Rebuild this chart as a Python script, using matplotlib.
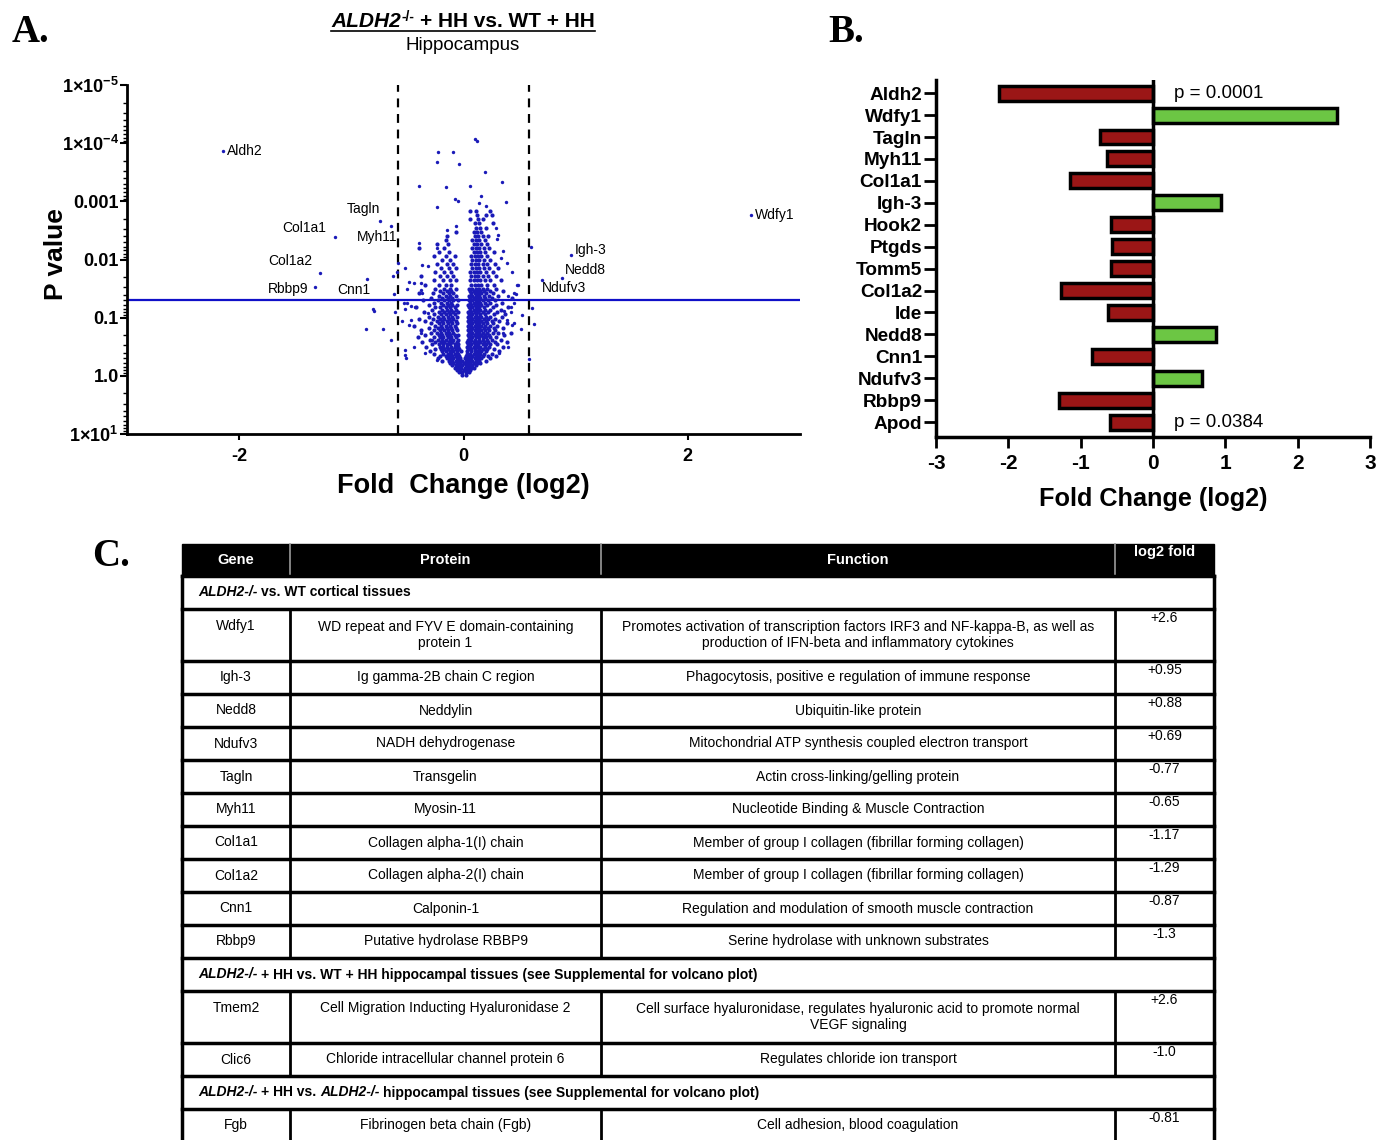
import numpy as np
import matplotlib.pyplot as plt
from matplotlib import font_manager
from matplotlib.lines import Line2D
from matplotlib.patches import Rectangle

avail = {f.name for f in font_manager.fontManager.ttflist}
narrow = next((n for n in ['Liberation Sans Narrow', 'Arial Narrow'] if n in avail), None)
table_font = narrow if narrow else 'Liberation Sans'
table_size = 11.5 if narrow else 10.0

plt.rcParams['font.family'] = ['Liberation Sans', 'DejaVu Sans']
plt.rcParams['mathtext.fontset'] = 'custom'
plt.rcParams['mathtext.rm'] = 'Liberation Sans:bold'
plt.rcParams['mathtext.it'] = 'Liberation Sans:italic:bold'
plt.rcParams['mathtext.bf'] = 'Liberation Sans:bold'

# ---- panel A: labelled genes (log2 fold change, -log10 p) ----
label_genes = ['Aldh2', 'Wdfy1', 'Tagln', 'Myh11', 'Col1a1', 'Col1a2', 'Rbbp9', 'Cnn1', 'Igh-3', 'Nedd8', 'Ndufv3']
label_fc = [-2.14, 2.56, -0.74, -0.65, -1.15, -1.28, -1.32, -0.86, 0.96, 0.88, 0.70]
label_nlogp = [3.86, 2.76, 2.67, 2.57, 2.38, 1.77, 1.52, 1.67, 2.08, 1.68, 1.65]

# rest of the volcano cloud, read row by row (-log10 p level, fold changes at that level)
cloud_levels = [0.02, 0.06, 0.10, 0.14, 0.18, 0.22, 0.26, 0.30, 0.34, 0.38, 0.42, 0.46, 0.50, 0.54,
                0.58, 0.62, 0.66, 0.70, 0.74, 0.78, 0.82, 0.86, 0.90, 0.94, 0.98, 1.02, 1.06, 1.10,
                1.14, 1.18, 1.22, 1.26, 1.30, 1.34, 1.38, 1.42, 1.46, 1.50, 1.57, 1.64, 1.71, 1.78,
                1.85, 1.92, 1.99, 2.06, 2.13, 2.20, 2.27, 2.34, 2.41, 2.48, 2.55, 2.62, 2.69, 2.76, 2.84]
cloud_fc_by_level = [
    [-0.01, 0.02],
    [-0.04, -0.01, 0.02, 0.05],
    [-0.06, -0.03, 0.00, 0.03, 0.06],
    [-0.08, -0.05, -0.02, 0.01, 0.04, 0.07, 0.09],
    [-0.10, -0.07, -0.04, -0.01, 0.02, 0.05, 0.08, 0.11],
    [-0.12, -0.09, -0.06, -0.03, 0.00, 0.03, 0.06, 0.09, 0.12, 0.15],
    [-0.13, -0.10, -0.07, -0.04, -0.01, 0.02, 0.05, 0.08, 0.11, 0.14, -0.19, 0.20],
    [-0.15, -0.12, -0.09, -0.06, -0.03, 0.01, 0.04, 0.07, 0.10, 0.13, 0.16, -0.23, 0.24],
    [-0.16, -0.13, -0.10, -0.07, -0.04, 0.02, 0.05, 0.08, 0.11, 0.14, 0.17, -0.21, 0.22, 0.29],
    [-0.18, -0.14, -0.11, -0.08, -0.05, 0.03, 0.06, 0.09, 0.12, 0.15, 0.18, -0.26, 0.25],
    [-0.19, -0.16, -0.12, -0.09, -0.06, -0.02, 0.03, 0.07, 0.10, 0.13, 0.16, 0.20, -0.30, 0.32],
    [-0.20, -0.17, -0.14, -0.10, -0.07, -0.04, 0.04, 0.07, 0.10, 0.14, 0.17, 0.21, 0.27, -0.25],
    [-0.21, -0.18, -0.15, -0.11, -0.08, -0.05, 0.03, 0.06, 0.09, 0.12, 0.15, 0.19, 0.23, -0.33, 0.35],
    [-0.22, -0.18, -0.15, -0.12, -0.08, -0.05, 0.04, 0.07, 0.10, 0.13, 0.17, 0.20, 0.24, -0.28, 0.30],
    [-0.20, -0.17, -0.13, -0.10, -0.06, 0.03, 0.06, 0.09, 0.12, 0.15, 0.18, 0.22, -0.25, -0.37, 0.28, 0.39],
    [-0.23, -0.19, -0.16, -0.12, -0.09, -0.05, 0.04, 0.07, 0.10, 0.14, 0.17, 0.21, 0.25, -0.30, 0.33],
    [-0.21, -0.18, -0.14, -0.11, -0.07, 0.05, 0.08, 0.11, 0.14, 0.17, 0.20, 0.24, -0.26, 0.29, -0.41],
    [-0.22, -0.19, -0.15, -0.12, -0.08, -0.05, 0.04, 0.07, 0.10, 0.13, 0.16, 0.19, 0.23, -0.34, 0.36],
    [-0.24, -0.20, -0.16, -0.13, -0.09, 0.05, 0.08, 0.11, 0.14, 0.17, 0.21, 0.26, -0.29, 0.31, 0.42],
    [-0.21, -0.17, -0.14, -0.10, -0.06, 0.04, 0.07, 0.10, 0.13, 0.16, 0.19, 0.23, -0.26, -0.38, 0.28],
    [-0.23, -0.19, -0.15, -0.11, -0.07, 0.05, 0.08, 0.11, 0.14, 0.18, 0.22, -0.31, 0.27, 0.35],
    [-0.20, -0.16, -0.12, -0.08, 0.04, 0.07, 0.10, 0.13, 0.16, 0.19, 0.24, -0.25, 0.30, -0.44],
    [-0.22, -0.18, -0.14, -0.10, -0.06, 0.05, 0.08, 0.11, 0.14, 0.17, 0.21, -0.29, 0.26, 0.39],
    [-0.24, -0.19, -0.15, -0.11, -0.07, 0.04, 0.07, 0.10, 0.13, 0.16, 0.20, 0.25, -0.34, 0.32],
    [-0.21, -0.17, -0.13, -0.09, 0.05, 0.08, 0.11, 0.14, 0.18, 0.22, -0.27, 0.28, -0.40],
    [-0.23, -0.18, -0.14, -0.10, -0.06, 0.04, 0.07, 0.10, 0.13, 0.16, 0.20, 0.24, -0.31, 0.34],
    [-0.20, -0.16, -0.12, -0.08, 0.05, 0.08, 0.11, 0.15, 0.19, -0.26, 0.27, 0.37],
    [-0.22, -0.17, -0.13, -0.09, -0.05, 0.04, 0.07, 0.10, 0.13, 0.17, 0.22, -0.35, 0.30],
    [-0.19, -0.15, -0.11, -0.07, 0.06, 0.09, 0.12, 0.15, 0.19, 0.24, -0.28, 0.33],
    [-0.21, -0.16, -0.12, -0.08, 0.05, 0.08, 0.11, 0.14, 0.18, -0.25, 0.26, 0.40, -0.42],
    [-0.18, -0.14, -0.10, -0.06, 0.04, 0.07, 0.10, 0.13, 0.16, 0.21, -0.31, 0.29],
    [-0.20, -0.15, -0.11, 0.06, 0.09, 0.12, 0.15, 0.19, 0.24, -0.26, 0.34],
    [-0.17, -0.13, -0.09, -0.05, 0.05, 0.08, 0.11, 0.14, 0.17, 0.22, -0.23, -0.36, 0.28],
    [-0.19, -0.14, -0.10, 0.06, 0.09, 0.12, 0.15, 0.19, -0.29, 0.25, 0.43],
    [-0.16, -0.12, -0.07, 0.05, 0.08, 0.11, 0.14, 0.18, 0.23, -0.22, 0.31],
    [-0.18, -0.13, -0.09, 0.07, 0.10, 0.13, 0.16, 0.20, -0.27, 0.26, -0.40],
    [-0.15, -0.11, 0.06, 0.09, 0.12, 0.15, 0.18, 0.24, -0.21, 0.35],
    [-0.17, -0.12, -0.07, 0.05, 0.08, 0.11, 0.14, 0.17, 0.21, -0.25, 0.29],
    [-0.16, -0.11, 0.07, 0.10, 0.13, 0.16, 0.21, -0.22, 0.27, -0.34],
    [-0.18, -0.12, -0.07, 0.06, 0.09, 0.12, 0.15, 0.19, 0.24, -0.26, 0.33],
    [-0.15, -0.09, 0.07, 0.10, 0.13, 0.17, 0.22, -0.21, 0.29, -0.38],
    [-0.17, -0.11, 0.06, 0.09, 0.12, 0.15, 0.20, -0.25, 0.26],
    [-0.13, -0.07, 0.08, 0.11, 0.14, 0.18, 0.23, -0.20, 0.31],
    [-0.15, -0.09, 0.07, 0.10, 0.13, 0.17, -0.24, 0.21, 0.28],
    [-0.12, 0.08, 0.11, 0.14, 0.18, -0.19, 0.24],
    [-0.16, -0.08, 0.07, 0.10, 0.13, 0.16, 0.21, -0.26],
    [-0.13, 0.09, 0.12, 0.15, 0.19, -0.22, 0.27],
    [-0.17, 0.08, 0.11, 0.14, 0.18, 0.23, -0.40],
    [-0.14, 0.09, 0.12, 0.16, 0.21, -0.24],
    [0.08, 0.11, 0.14, 0.19, -0.16],
    [0.10, 0.13, 0.17, -0.15, 0.22],
    [0.09, 0.12, 0.16, -0.07],
    [0.11, 0.15, 0.20],
    [0.10, 0.14, 0.26],
    [0.13, 0.17, 0.06],
    [0.12, 0.20, 0.25],
    [0.06, 0.11, 0.24],
]
outlier_fc = [0.14, 0.20, -0.24, 0.38, -0.08, -0.05, 0.16, -0.40, -0.16, 0.06, 0.34, 0.19, -0.24, -0.04,
              -0.23, -0.09, 0.10, 0.12, -0.15, -0.07, -0.40, 0.29, 0.31,
              -0.81, -0.80, -0.87, -0.72, -0.65, -0.61, -0.51, -0.52, -0.62, -0.63, -0.59, -0.58,
              0.60, 0.61, 0.63, 0.58, 0.51, 0.49, 0.45, 0.43, 0.42, -0.50, -0.47, -0.55, 0.47, 0.52, -0.52, -0.49,
              # halo between the lobes and the fold-change cut-offs
              -0.52, -0.44, -0.38, -0.38, -0.37, -0.32, -0.37, -0.24, -0.53, -0.50, -0.43, -0.32, -0.47,
              -0.49, -0.38, -0.44, -0.52, -0.34, -0.28, -0.24,
              0.45, 0.40, 0.48, 0.43, 0.39, 0.35, 0.42, 0.39, 0.45, 0.35, 0.40, 0.32, 0.36, 0.30, 0.33]
outlier_nlogp = [2.97, 2.92, 2.90, 2.99, 3.04, 3.01, 3.10, 3.26, 3.25, 3.27, 3.33, 3.50, 3.67, 3.64,
                 3.85, 3.84, 4.08, 4.04, 2.51, 2.58, 2.29, 2.55, 2.42,
                 1.15, 1.11, 0.80, 0.80, 0.62, 1.09, 0.30, 0.45, 1.41, 1.72, 1.78, 1.94,
                 2.22, 1.16, 0.89, 0.29, 0.80, 1.56, 1.25, 0.88, 1.09, 1.50, 1.20, 0.95, 1.40, 1.05, 1.15, 1.62,
                 1.85, 1.59, 1.59, 1.48, 1.43, 1.88, 1.90, 2.19, 1.25, 1.26, 1.19, 1.08, 0.96,
                 0.88, 0.73, 0.50, 0.36, 0.39, 0.62, 0.27,
                 1.42, 1.38, 1.56, 1.79, 1.94, 2.14, 1.19, 0.96, 0.90, 0.73, 0.50, 0.39, 1.11, 2.35, 2.02]

p_cut = 0.05
fc_cut = 0.585

# ---- panel B ----
bar_genes = ['Aldh2', 'Wdfy1', 'Tagln', 'Myh11', 'Col1a1', 'Igh-3', 'Hook2', 'Ptgds',
             'Tomm5', 'Col1a2', 'Ide', 'Nedd8', 'Cnn1', 'Ndufv3', 'Rbbp9', 'Apod']
bar_fc = [-2.13, 2.55, -0.73, -0.63, -1.15, 0.94, -0.58, -0.56,
          -0.58, -1.27, -0.62, 0.87, -0.85, 0.68, -1.30, -0.59]

# ---- panel C table ----
table_genes = ['Wdfy1', 'Igh-3', 'Nedd8', 'Ndufv3', 'Tagln', 'Myh11', 'Col1a1', 'Col1a2', 'Cnn1', 'Rbbp9',
               'Tmem2', 'Clic6', 'Fgb']
table_proteins = ['WD repeat and FYV E domain-containing\nprotein 1', 'Ig gamma-2B chain C region', 'Neddylin',
                  'NADH dehydrogenase', 'Transgelin', 'Myosin-11', 'Collagen alpha-1(I) chain',
                  'Collagen alpha-2(I) chain', 'Calponin-1', 'Putative hydrolase RBBP9',
                  'Cell Migration Inducting Hyaluronidase 2', 'Chloride intracellular channel protein 6',
                  'Fibrinogen beta chain (Fgb)']
table_functions = ['Promotes activation of transcription factors IRF3 and NF-kappa-B, as well as\nproduction of IFN-beta and inflammatory cytokines',
                   'Phagocytosis, positive e regulation of immune response', 'Ubiquitin-like protein',
                   'Mitochondrial ATP synthesis coupled electron transport', 'Actin cross-linking/gelling protein',
                   'Nucleotide Binding & Muscle Contraction', 'Member of group I collagen (fibrillar forming collagen)',
                   'Member of group I collagen (fibrillar forming collagen)',
                   'Regulation and modulation of smooth muscle contraction', 'Serine hydrolase with unknown substrates',
                   'Cell surface hyaluronidase, regulates hyaluronic acid to promote normal\nVEGF signaling',
                   'Regulates chloride ion transport', 'Cell adhesion, blood coagulation']
table_folds = ['+2.6', '+0.95', '+0.88', '+0.69', '-0.77', '-0.65', '-1.17', '-1.29', '-0.87', '-1.3',
               '+2.6', '-1.0', '-0.81']
table_headers = ['Gene', 'Protein', 'Function', 'log2 fold']
section_start = [0, 10, 12]
section_texts = [
    [('ALDH2-/-', 'italic'), (' vs. WT cortical tissues', 'normal')],
    [('ALDH2-/-', 'italic'), (' + HH vs. WT + HH hippocampal tissues (see Supplemental for volcano plot)', 'normal')],
    [('ALDH2-/-', 'italic'), (' + HH vs.', 'normal'), (' ALDH2-/-', 'italic'),
     (' hippocampal tissues (see Supplemental for volcano plot)', 'normal')],
]

W, H = 1386, 1140
fig = plt.figure(figsize=(W / 100, H / 100), dpi=100)

# table axes in pixel units
ax_t = fig.add_axes([0, 0, 1, 1])
ax_t.set_xlim(0, W)
ax_t.set_ylim(H, 0)
ax_t.axis('off')
renderer = fig.canvas.get_renderer()

# ================= Panel A =================
ax_a = fig.add_axes([127 / W, 1 - 434 / H, 673 / W, 349 / H])
cloud_x = [x for row in cloud_fc_by_level for x in row]
cloud_y = [lv for lv, row in zip(cloud_levels, cloud_fc_by_level) for _ in row]
blue = '#1a1ab8'
ax_a.scatter(cloud_x, cloud_y, s=9, color=blue, linewidths=0, zorder=3)
ax_a.scatter(outlier_fc + label_fc, outlier_nlogp + label_nlogp, s=6, color=blue, linewidths=0, zorder=3)
ax_a.axhline(-np.log10(p_cut), color='#1010c8', lw=1.6, zorder=2)
for xv in (-fc_cut, fc_cut):
    ax_a.axvline(xv, color='black', lw=1.6, ls=(0, (4, 3)), zorder=2)

offsets = {  # pixel offsets of each label from its point, alignment
    'Aldh2': (4, 0, 'left'), 'Wdfy1': (4, 0, 'left'), 'Tagln': (-17, 12, 'center'),
    'Myh11': (-13, -11, 'center'), 'Col1a1': (-8, 9, 'right'), 'Col1a2': (-8, 12, 'right'),
    'Rbbp9': (-7, -2, 'right'), 'Cnn1': (-13, -11, 'center'), 'Igh-3': (4, 5, 'left'),
    'Nedd8': (3, 8, 'left'), 'Ndufv3': (0, -8, 'left'),
}
for g, x, y in zip(label_genes, label_fc, label_nlogp):
    dx, dy, ha = offsets[g]
    ax_a.annotate(g, (x, y), xytext=(dx * 0.72, dy * 0.72), textcoords='offset points',
                  ha=ha, va='center', fontsize=10)

ax_a.set_xlim(-3, 3)
ax_a.set_ylim(-1, 5)
ax_a.set_xticks([-2, 0, 2])
ax_a.set_xticklabels(['-2', '0', '2'], fontweight='bold', fontsize=13)
ax_a.set_yticks([5, 4, 3, 2, 1, 0, -1])
ax_a.set_yticklabels(['1×10$^{-5}$', '1×10$^{-4}$', '0.001', '0.01', '0.1', '1.0', '1×10$^{1}$'],
                     fontweight='bold', fontsize=13)
ax_a.set_yticks([d - np.log10(k) for d in range(0, 6) for k in range(2, 10)], minor=True)
ax_a.tick_params(axis='y', which='major', length=5, width=1.5, pad=1)
ax_a.tick_params(axis='y', which='minor', length=3, width=1)
ax_a.tick_params(axis='x', length=4, width=1.5, pad=6)
for s in ('top', 'right'):
    ax_a.spines[s].set_visible(False)
for s in ('left', 'bottom'):
    ax_a.spines[s].set_linewidth(2)
ax_a.set_xlabel('Fold  Change (log2)', fontsize=19.5, fontweight='bold', labelpad=6)
ax_a.set_ylabel('P value', fontsize=19, fontweight='bold')
ax_a.yaxis.set_label_coords(-0.088, 0.515)

# title: italic gene name with superscript, underlined
title_parts = [('ALDH2', 'italic', 15, 0), ('-/-', 'normal', 10, 6), ('+ HH vs. WT + HH', 'normal', 15, 0)]
gaps = [0, 1, 5.5]
texts, widths = [], []
for s, st, fs, rise in title_parts:
    t = fig.text(0, 0, s, fontstyle=st, fontsize=fs, fontweight='bold', ha='left', va='baseline')
    texts.append(t)
    widths.append(t.get_window_extent(renderer).width)
total = sum(widths) + sum(gaps)
x = 463 - total / 2
base = H - 27
for t, w, g, (s, st, fs, rise) in zip(texts, widths, gaps, title_parts):
    x += g
    t.set_position((x / W, (base + rise) / H))
    x += w
fig.add_artist(Line2D([(463 - total / 2) / W, (463 + total / 2) / W], [(H - 31) / H] * 2,
                      transform=fig.transFigure, color='black', lw=1.2))
fig.text(463 / W, 1 - 45 / H, 'Hippocampus', ha='center', va='center', fontsize=13.5)

# ================= Panel B =================
ax_b = fig.add_axes([936 / W, 1 - 437 / H, 434 / W, 357 / H])
ypos = np.arange(len(bar_genes))
colors = ['#6cc644' if v > 0 else '#9b1616' for v in bar_fc]
ax_b.barh(ypos, bar_fc, height=0.68, color=colors, edgecolor='black', linewidth=2.5, zorder=3)
ax_b.axvline(0, color='black', lw=2.5, zorder=4)
ax_b.set_xlim(-3, 3)
ax_b.set_ylim(len(bar_genes) - 0.32, -0.6)
ax_b.set_yticks(ypos)
ax_b.set_yticklabels(bar_genes, fontweight='bold', fontsize=13.7)
ax_b.set_xticks(range(-3, 4))
ax_b.set_xticklabels([str(v) for v in range(-3, 4)], fontweight='bold', fontsize=15)
ax_b.tick_params(axis='y', length=9, width=2, pad=1)
ax_b.tick_params(axis='x', length=8, width=2, pad=4)
for s in ('top', 'right'):
    ax_b.spines[s].set_visible(False)
for s in ('left', 'bottom'):
    ax_b.spines[s].set_linewidth(2.5)
ax_b.text(0.29, 0, 'p = 0.0001', ha='left', va='center', fontsize=13.5)
ax_b.text(0.29, len(bar_genes) - 1, 'p = 0.0384', ha='left', va='center', fontsize=13.5)
ax_b.set_xlabel('Fold Change (log2)', fontsize=18.2, fontweight='bold', labelpad=10)

# ================= Panel C =================
col_edges = [182, 290, 601, 1115, 1214]
col_centers = [(a + b) / 2 for a, b in zip(col_edges[:-1], col_edges[1:])]
lw_t = 2.5
ax_t.add_patch(Rectangle((182, 544), 1032, 32, color='black'))
for xe in col_edges[1:-1]:
    ax_t.plot([xe, xe], [544, 576], color='#9a9a9a', lw=1.2)
for i, hdr in enumerate(table_headers):
    yy = 552 if hdr == 'log2 fold' else 560
    ax_t.text(col_centers[i], yy, hdr, ha='center', va='center', color='white', fontweight='bold',
              family=table_font, fontsize=table_size + 0.5)


def draw_pieces(x, y, pieces):
    gap = table_size * 1.389 * 0.26
    for s, style in pieces:
        if s.startswith(' '):
            x += gap
            s = s.strip()
        t = ax_t.text(x, y, s, ha='left', va='center', fontstyle=style, fontweight='bold',
                      family=table_font, fontsize=table_size)
        x += t.get_window_extent(renderer).width


y = 576
for i in range(len(table_genes)):
    if i in section_start:
        k = section_start.index(i)
        ax_t.plot([182, 1214], [y, y], color='black', lw=lw_t)
        draw_pieces(198, y + 16.5, section_texts[k])
        y += 33
    two = '\n' in table_proteins[i] or '\n' in table_functions[i]
    h = 52 if two else 33
    top, mid = y, y + h / 2
    ax_t.plot([182, 1214], [top, top], color='black', lw=lw_t)
    for xe in col_edges[1:-1]:
        ax_t.plot([xe, xe], [top, top + h], color='black', lw=2)
    cells = [table_genes[i], table_proteins[i], table_functions[i]]
    for j, txt in enumerate(cells):
        ty = mid if ('\n' in txt or not two) else mid - 9
        ax_t.text(col_centers[j], ty, txt, ha='center', va='center', family=table_font,
                  fontsize=table_size, linespacing=1.2)
    ax_t.text(col_centers[3], top + 9, table_folds[i], ha='center', va='center', family=table_font,
              fontsize=table_size)
    y += h
ax_t.plot([182, 182], [576, H], color='black', lw=lw_t)
ax_t.plot([1214, 1214], [576, H], color='black', lw=lw_t)

# panel letters
for lx, ly, lab in [(12, 33, 'A.'), (828, 33, 'B.'), (92, 557, 'C.')]:
    ax_t.text(lx, ly, lab, ha='left', va='center', family='Liberation Serif', fontweight='bold', fontsize=28)

fig.savefig('out.png', dpi=100)
